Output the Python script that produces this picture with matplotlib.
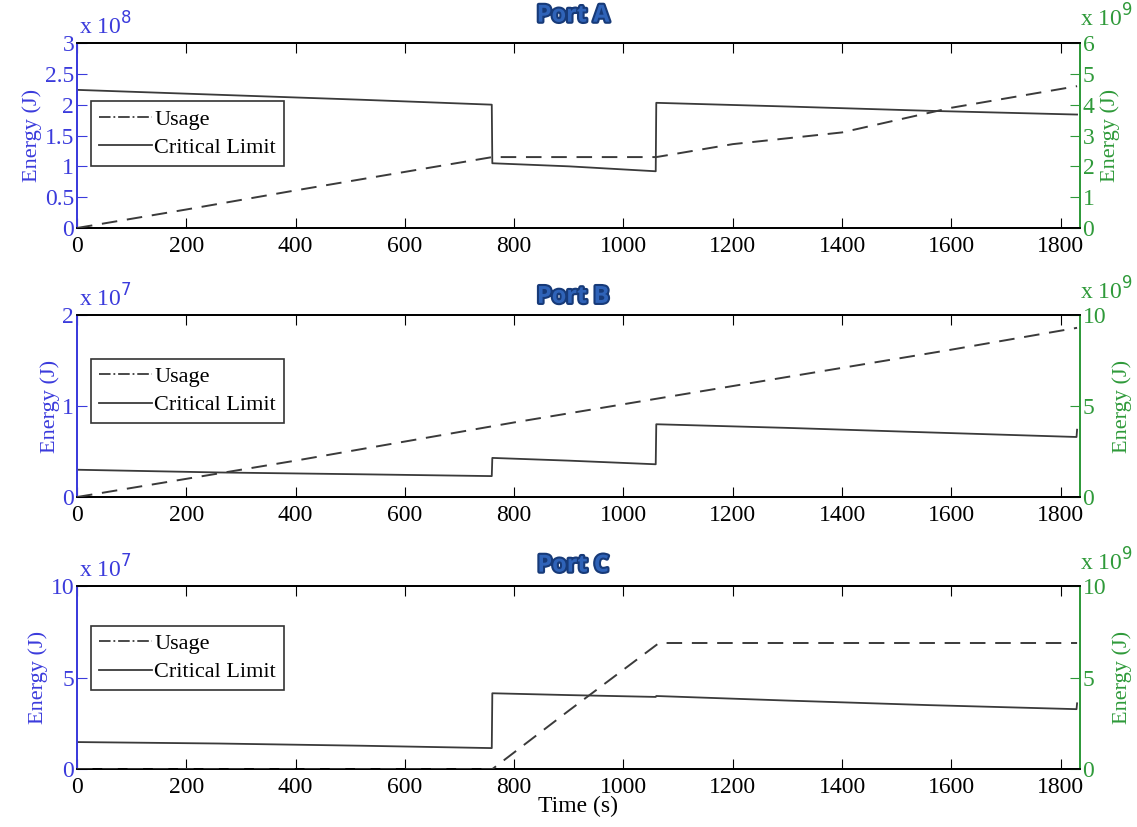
import matplotlib
matplotlib.use("Agg")
import matplotlib.pyplot as plt
import matplotlib.patheffects as pe
from matplotlib.lines import Line2D

# time axis (s)
t_lim = [0, 260, 520, 759, 760, 900, 1059, 1060, 1300, 1560, 1829, 1830]

# Port A: critical limit (x1e8 J, left), usage (x1e9 J, right)
a_crit = [2.24, 2.16, 2.08, 2.00, 1.05, 1.00, 0.92, 2.03, 1.97, 1.90, 1.84, 1.84]
a_use_t = [0, 200, 400, 600, 760, 900, 1060, 1200, 1400, 1600, 1830]
a_use = [0.0, 0.60, 1.22, 1.82, 2.30, 2.30, 2.30, 2.72, 3.10, 3.90, 4.60]

# Port B: critical limit (x1e7 J, left), usage (x1e9 J, right)
b_crit = [0.30, 0.27, 0.25, 0.23, 0.43, 0.40, 0.36, 0.80, 0.76, 0.71, 0.66, 0.74]
b_use_t = [0, 200, 400, 600, 800, 1000, 1200, 1400, 1600, 1830]
b_use = [0.0, 1.0, 2.0, 3.05, 4.1, 5.1, 6.1, 7.1, 8.1, 9.3]

# Port C: critical limit (x1e7 J, left), usage (x1e9 J, right)
c_crit = [1.48, 1.40, 1.28, 1.15, 4.15, 4.05, 3.95, 4.00, 3.75, 3.50, 3.28, 3.60]
c_use_t = [0, 700, 760, 900, 1065, 1300, 1600, 1830]
c_use = [0.0, 0.0, 0.0, 3.2, 6.9, 6.9, 6.9, 6.9]

titles = ["Port A", "Port B", "Port C"]
left_lims = [3, 2, 10]
left_ticks = [[0, 0.5, 1, 1.5, 2, 2.5, 3], [0, 1, 2], [0, 5, 10]]
left_tlabels = [["0", "0.5", "1", "1.5", "2", "2.5", "3"], ["0", "1", "2"], ["0", "5", "10"]]
left_exp = ["8", "7", "7"]
right_lims = [6, 10, 10]
right_ticks = [[0, 1, 2, 3, 4, 5, 6], [0, 5, 10], [0, 5, 10]]
x_ticks = [0, 200, 400, 600, 800, 1000, 1200, 1400, 1600, 1800]

BLUE = "#3b3bdc"
GREEN = "#2f9a3a"
LINE = "#3a3a3a"
serif = "Liberation Serif"

plt.rcParams["font.family"] = serif

fig = plt.figure(figsize=(11.37, 8.27), dpi=100)

positions = [
    [0.0677, 0.7243, 0.882, 0.2237],
    [0.0677, 0.399, 0.882, 0.220],
    [0.0677, 0.070, 0.882, 0.221],
]
legend_y = [0.685, 0.76, 0.785]
title_y = [0.981, 0.641, 0.316]

panels = [
    (a_crit, a_use_t, a_use),
    (b_crit, b_use_t, b_use),
    (c_crit, c_use_t, c_use),
]

for i, (crit, use_t, use) in enumerate(panels):
    ax = fig.add_axes(positions[i])
    ax2 = ax.twinx()

    ax.plot(t_lim, crit, color=LINE, lw=1.3, zorder=3)
    ax2.plot(use_t, use, color=LINE, lw=1.4, dashes=(8, 5), zorder=3)

    ax.set_xlim(0, 1835)
    ax.set_ylim(0, left_lims[i])
    ax2.set_ylim(0, right_lims[i])
    ax.set_xticks(x_ticks)
    ax.set_xticklabels([str(v) for v in x_ticks])
    ax.set_yticks(left_ticks[i])
    ax.set_yticklabels(left_tlabels[i])
    ax2.set_yticks(right_ticks[i])

    ax.tick_params(axis="x", direction="in", top=True, length=7, labelsize=17,
                   pad=6, colors="black")
    ax.tick_params(axis="y", direction="in", length=7, labelsize=17, pad=2,
                   colors=BLUE)
    ax2.tick_params(axis="y", direction="in", length=7, labelsize=17, pad=2,
                    colors=GREEN)

    ax.spines["left"].set_color(BLUE)
    ax2.spines["left"].set_color(BLUE)
    ax2.spines["right"].set_color(GREEN)
    ax.spines["right"].set_color(GREEN)
    for a in (ax, ax2):
        for sp in a.spines.values():
            sp.set_linewidth(1.3)

    ax.set_ylabel("Energy (J)", color=BLUE, fontsize=16, labelpad=2)
    ax2.set_ylabel("Energy (J)", color=GREEN, fontsize=16, labelpad=4)

    ax.text(0.002, 1.02, r"x 10$^{%s}$" % left_exp[i], transform=ax.transAxes,
            color=BLUE, fontsize=17, ha="left", va="bottom")
    ax2.text(1.0, 1.06, r"x 10$^{9}$", transform=ax2.transAxes,
             color=GREEN, fontsize=17, ha="left", va="bottom")

    handles = [Line2D([], [], color=LINE, lw=1.3, ls="-."),
               Line2D([], [], color=LINE, lw=1.3, ls="-")]
    leg = ax2.legend(handles, ["Usage", "Critical Limit"], loc="upper left",
                     bbox_to_anchor=(0.014, legend_y[i]), fontsize=16,
                     frameon=True, fancybox=False, handlelength=2.4,
                     handletextpad=0.1, borderpad=0.35, labelspacing=0.35,
                     borderaxespad=0)
    leg.get_frame().set_edgecolor("black")
    leg.get_frame().set_linewidth(1.2)

    fig.text(0.504, title_y[i], titles[i], ha="center", va="center",
             fontsize=17, fontweight="bold", family="Open Sans",
             color="#2f63b8",
             path_effects=[pe.Stroke(linewidth=3, foreground="#173a78"),
                           pe.Normal()])

    if i == 2:
        ax.set_xlabel("Time (s)", fontsize=17, labelpad=-2)

fig.savefig("out.png", dpi=100)
